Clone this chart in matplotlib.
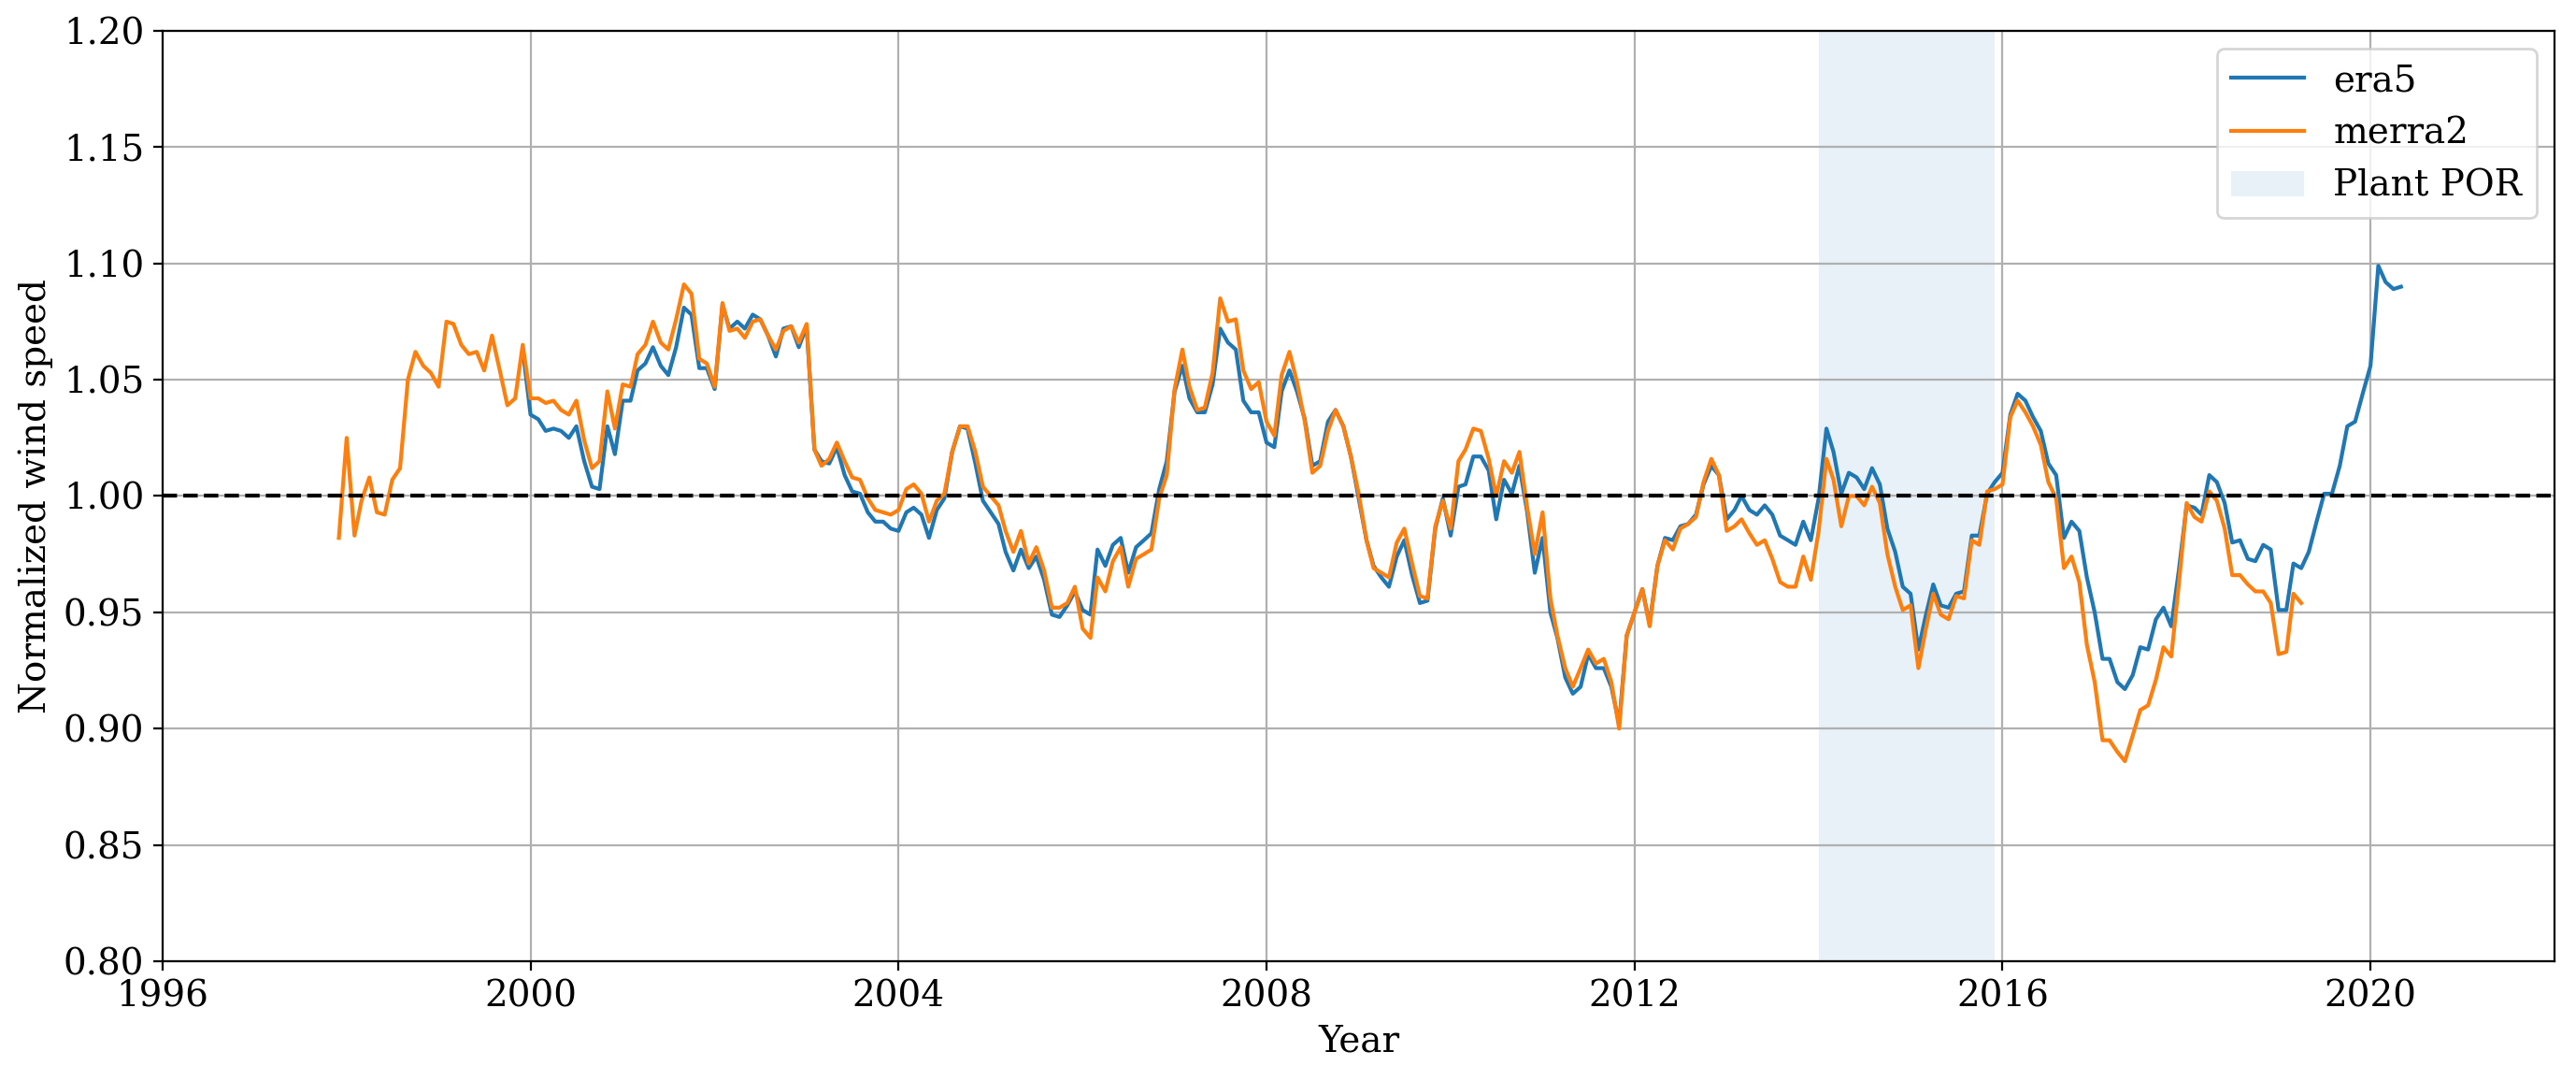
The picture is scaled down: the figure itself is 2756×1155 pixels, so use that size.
import numpy as np
import pandas as pd
import matplotlib
matplotlib.use("Agg")
import matplotlib.pyplot as plt
import matplotlib.dates as mdates

plt.rcParams['font.family'] = ['DejaVu Serif']

# monthly normalized wind speed, era5 starts 1999-12, merra2 starts 1997-12
era5_start = '1999-12-01'
era5 = [
    1.063,
    1.035, 1.033, 1.028, 1.029, 1.028, 1.025, 1.030, 1.015, 1.004, 1.003, 1.030, 1.018,
    1.041, 1.041, 1.054, 1.057, 1.064, 1.056, 1.052, 1.064, 1.081, 1.078, 1.055, 1.055,
    1.046, 1.082, 1.072, 1.075, 1.072, 1.078, 1.076, 1.069, 1.060, 1.072, 1.073, 1.064,
    1.073, 1.020, 1.015, 1.014, 1.021, 1.009, 1.002, 1.001, 0.993, 0.989, 0.989, 0.986,
    0.985, 0.993, 0.995, 0.992, 0.982, 0.994, 0.999, 1.019, 1.030, 1.029, 1.014, 0.998,
    0.993, 0.988, 0.976, 0.968, 0.977, 0.969, 0.974, 0.964, 0.949, 0.948, 0.953, 0.959,
    0.951, 0.949, 0.977, 0.970, 0.979, 0.982, 0.967, 0.978, 0.981, 0.984, 1.003, 1.015,
    1.045, 1.056, 1.042, 1.036, 1.036, 1.048, 1.072, 1.066, 1.063, 1.041, 1.036, 1.036,
    1.023, 1.021, 1.045, 1.054, 1.045, 1.033, 1.013, 1.015, 1.032, 1.037, 1.030, 1.017,
    0.999, 0.981, 0.970, 0.965, 0.961, 0.974, 0.981, 0.966, 0.954, 0.955, 0.986, 0.999,
    0.983, 1.004, 1.005, 1.017, 1.017, 1.011, 0.990, 1.007, 1.001, 1.013, 0.993, 0.967,
    0.982, 0.950, 0.939, 0.922, 0.915, 0.918, 0.932, 0.926, 0.926, 0.918, 0.902, 0.940,
    0.950, 0.960, 0.945, 0.970, 0.982, 0.981, 0.987, 0.988, 0.992, 1.005, 1.013, 1.009,
    0.990, 0.994, 1.000, 0.994, 0.992, 0.996, 0.992, 0.983, 0.981, 0.979, 0.989, 0.981,
    0.999, 1.029, 1.019, 1.001, 1.010, 1.008, 1.003, 1.012, 1.005, 0.986, 0.976, 0.961,
    0.958, 0.934, 0.948, 0.962, 0.953, 0.952, 0.958, 0.959, 0.983, 0.983, 1.001, 1.006,
    1.010, 1.035, 1.044, 1.041, 1.034, 1.028, 1.014, 1.009, 0.982, 0.989, 0.985, 0.965,
    0.950, 0.930, 0.930, 0.920, 0.917, 0.923, 0.935, 0.934, 0.947, 0.952, 0.944, 0.968,
    0.996, 0.995, 0.992, 1.009, 1.006, 0.997, 0.980, 0.981, 0.973, 0.972, 0.979, 0.977,
    0.951, 0.951, 0.971, 0.969, 0.976, 0.989, 1.001, 1.001, 1.013, 1.030, 1.032, 1.044,
    1.056, 1.099, 1.092, 1.089, 1.090,
]

merra2_start = '1997-12-01'
merra2 = [
    0.982,
    1.025, 0.983, 0.998, 1.008, 0.993, 0.992, 1.007, 1.012, 1.050, 1.062, 1.056, 1.053,
    1.047, 1.075, 1.074, 1.065, 1.061, 1.062, 1.054, 1.069, 1.054, 1.039, 1.042, 1.065,
    1.042, 1.042, 1.040, 1.041, 1.037, 1.035, 1.041, 1.024, 1.012, 1.015, 1.045, 1.029,
    1.048, 1.047, 1.061, 1.065, 1.075, 1.066, 1.063, 1.076, 1.091, 1.087, 1.059, 1.057,
    1.047, 1.083, 1.071, 1.072, 1.068, 1.075, 1.076, 1.069, 1.063, 1.071, 1.073, 1.066,
    1.074, 1.020, 1.013, 1.016, 1.023, 1.015, 1.008, 1.007, 0.999, 0.994, 0.993, 0.992,
    0.994, 1.003, 1.005, 1.001, 0.989, 0.998, 1.001, 1.019, 1.030, 1.030, 1.019, 1.004,
    1.000, 0.996, 0.985, 0.976, 0.985, 0.971, 0.978, 0.968, 0.952, 0.952, 0.954, 0.961,
    0.943, 0.939, 0.965, 0.959, 0.972, 0.978, 0.961, 0.973, 0.975, 0.977, 0.999, 1.009,
    1.046, 1.063, 1.047, 1.037, 1.038, 1.053, 1.085, 1.075, 1.076, 1.054, 1.046, 1.049,
    1.032, 1.026, 1.052, 1.062, 1.049, 1.032, 1.010, 1.013, 1.028, 1.037, 1.030, 1.017,
    1.001, 0.981, 0.969, 0.967, 0.965, 0.980, 0.986, 0.971, 0.957, 0.956, 0.987, 0.998,
    0.986, 1.015, 1.020, 1.029, 1.028, 1.016, 1.000, 1.015, 1.010, 1.019, 0.995, 0.975,
    0.993, 0.956, 0.940, 0.926, 0.918, 0.926, 0.934, 0.928, 0.930, 0.920, 0.900, 0.940,
    0.950, 0.960, 0.944, 0.970, 0.981, 0.977, 0.986, 0.988, 0.991, 1.006, 1.016, 1.009,
    0.985, 0.987, 0.990, 0.984, 0.979, 0.981, 0.973, 0.963, 0.961, 0.961, 0.974, 0.964,
    0.985, 1.016, 1.007, 0.987, 1.000, 1.000, 0.996, 1.004, 0.997, 0.975, 0.961, 0.951,
    0.953, 0.926, 0.942, 0.958, 0.949, 0.947, 0.957, 0.956, 0.981, 0.979, 1.002, 1.003,
    1.005, 1.034, 1.041, 1.036, 1.030, 1.022, 1.006, 0.999, 0.969, 0.974, 0.963, 0.936,
    0.920, 0.895, 0.895, 0.890, 0.886, 0.897, 0.908, 0.910, 0.921, 0.935, 0.931, 0.962,
    0.997, 0.991, 0.989, 1.002, 0.998, 0.986, 0.966, 0.966, 0.962, 0.959, 0.959, 0.954,
    0.932, 0.933, 0.958, 0.954,
]

por_start, por_end = '2014-01-01', '2015-12-01'

era5_t = pd.date_range(era5_start, periods=len(era5), freq='MS')
merra2_t = pd.date_range(merra2_start, periods=len(merra2), freq='MS')

fig = plt.figure(figsize=(13.78, 5.775), dpi=200)
ax = fig.add_axes([0.0631, 0.110, 0.9286, 0.8614])

ax.plot(era5_t, era5, label='era5', lw=1.5)
ax.plot(merra2_t, merra2, label='merra2', lw=1.5)
ax.axvspan(pd.Timestamp(por_start), pd.Timestamp(por_end), alpha=0.1, label='Plant POR')
ax.axhline(1, color='k', ls='--', lw=1.5)

ax.set_xlim(pd.Timestamp('1996-01-01'), pd.Timestamp('2022-01-01'))
ax.set_ylim(0.8, 1.2)
ax.xaxis.set_major_locator(mdates.YearLocator(4))
ax.xaxis.set_major_formatter(mdates.DateFormatter('%Y'))
ax.set_yticks(np.arange(0.8, 1.2001, 0.05))
ax.set_yticklabels(['%.2f' % v for v in np.arange(0.8, 1.2001, 0.05)])
ax.tick_params(labelsize=14)
ax.grid()
ax.set_xlabel('Year', fontsize=14)
ax.set_ylabel('Normalized wind speed', fontsize=14)
ax.legend(loc='upper right', fontsize=14)

fig.savefig('out.png', dpi=200)
